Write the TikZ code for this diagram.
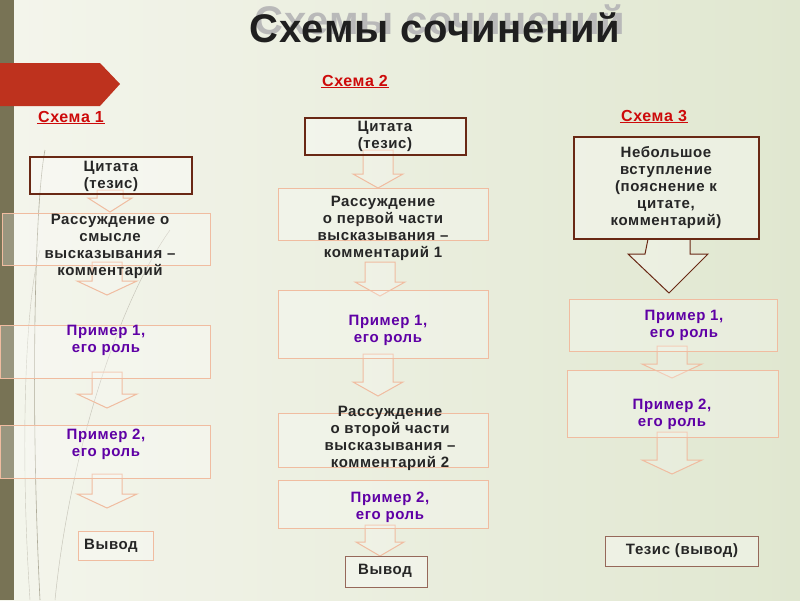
\documentclass[tikz,border=0pt]{standalone}
\usepackage{fontspec}
\setmainfont{Liberation Sans}[LetterSpace=4]
\newfontfamily\titlefont{Liberation Sans}[LetterSpace=2]
\definecolor{bgl}{RGB}{244,245,236}
\definecolor{bgr}{RGB}{224,231,208}
\definecolor{peach}{RGB}{240,188,160}
\definecolor{darkb}{RGB}{105,40,20}
\definecolor{purp}{RGB}{95,0,165}
\definecolor{hred}{RGB}{205,10,10}
\definecolor{brick}{RGB}{190,50,30}
\definecolor{olive}{RGB}{120,115,85}
\begin{document}
\begin{tikzpicture}[x=1pt,y=-1pt,
  lbox/.style={draw=peach,line width=1pt,fill=white,fill opacity=0.25,text opacity=1},
  dbox/.style={draw=darkb,line width=1.2pt,fill=white,fill opacity=0.35,text opacity=1},
  txt/.style={font=\fontsize{15}{17}\selectfont\bfseries,align=center,text=black!85},
  ptxt/.style={font=\fontsize{15}{17}\selectfont\bfseries,align=center,text=purp},
  hdr/.style={font=\fontsize{16}{18}\selectfont\bfseries,text=hred,inner sep=1pt},
  arr/.style={draw=peach,line width=1pt,fill=white,fill opacity=0.2}]
\useasboundingbox (0,0) rectangle (800,600);
\shade[left color=bgl,right color=bgr] (0,0) rectangle (800,600);
\fill[olive] (0,0) rectangle (14,600);
\draw[olive!60,line width=0.6pt] (40,600) .. controls (30,400) and (35,200) .. (45,150);
\draw[olive!40,line width=0.5pt] (55,600) .. controls (70,450) and (120,300) .. (170,230);
\draw[olive!40,line width=0.4pt] (30,600) .. controls (20,450) and (25,300) .. (40,250);
\fill[brick] (0,63) -- (100,63) -- (120,84) -- (100,106) -- (0,106) -- cycle;
\node[font=\titlefont\fontsize{40}{44}\selectfont\bfseries,text=gray!55] at (440,20) {Схемы сочинений};
\node[font=\titlefont\fontsize{40}{44}\selectfont\bfseries,text=black!88] (title) at (435,28) {Схемы сочинений};
% headers
\node[hdr] (h1) at (71,117) {Схема 1};
\draw[hred,line width=1pt] (h1.south west) -- (h1.south east);
\node[hdr] (h2) at (355,81) {Схема 2};
\draw[hred,line width=1pt] (h2.south west) -- (h2.south east);
\node[hdr] (h3) at (654,116) {Схема 3};
\draw[hred,line width=1pt] (h3.south west) -- (h3.south east);
% block arrows
\newcommand\darr[5]{\filldraw[arr] (#1-#4/2,#2) -- (#1+#4/2,#2) -- (#1+#4/2,#3-14) -- (#1+#5/2,#3-14) -- (#1,#3) -- (#1-#5/2,#3-14) -- (#1-#4/2,#3-14) -- cycle;}
\darr{110}{190}{212}{26}{44}
\darr{107}{262}{295}{30}{60}
\darr{107}{372}{408}{30}{60}
\darr{107}{474}{508}{30}{60}
\darr{378}{150}{188}{30}{50}
\darr{380}{262}{296}{30}{50}
\darr{378}{354}{396}{30}{50}
\darr{380}{525}{556}{30}{48}
\darr{672}{346}{378}{30}{60}
\darr{672}{432}{474}{30}{60}
\filldraw[draw=darkb,line width=1pt,fill=white,fill opacity=0.3] (648,239) -- (690,239) -- (690,254) -- (708,254) -- (669,293) -- (628,254) -- (645,254) -- cycle;
% schema 1
\draw[dbox] (30,157) rectangle (192,194);
\node[txt] (c1) at (111,176) {Цитата\\(тезис)};
\draw[lbox] (2,213) rectangle (210,265);
\node[txt] (r1) at (110,246) {Рассуждение о\\смысле\\высказывания –\\комментарий};
\draw[lbox] (0,325) rectangle (210,378);
\node[ptxt] (p11) at (106,340) {Пример 1,\\его роль};
\draw[lbox] (0,425) rectangle (210,478);
\node[ptxt] (p12) at (106,444) {Пример 2,\\его роль};
\draw[lbox] (78,531) rectangle (153,560);
\node[txt] (v1) at (111,546) {Вывод};
% schema 2
\draw[dbox] (305,118) rectangle (466,155);
\node[txt] (c2) at (385,136) {Цитата\\(тезис)};
\draw[lbox] (278,188) rectangle (488,240);
\node[txt] (r2) at (383,228) {Рассуждение\\о первой части\\высказывания –\\комментарий 1};
\draw[lbox] (278,290) rectangle (488,358);
\node[ptxt] (p21) at (388,330) {Пример 1,\\его роль};
\draw[lbox] (278,413) rectangle (488,467);
\node[txt] (r22) at (390,438) {Рассуждение\\о второй части\\высказывания –\\комментарий 2};
\draw[lbox] (278,480) rectangle (488,528);
\node[ptxt] (p22) at (390,507) {Пример 2,\\его роль};
\draw[dbox,line width=0.8pt,draw=darkb!70] (345,556) rectangle (427,587);
\node[txt] (v2) at (385,571) {Вывод};
% schema 3
\draw[dbox] (574,137) rectangle (759,239);
\node[txt] (n3) at (666,188) {Небольшое\\вступление\\(пояснение к\\цитате,\\комментарий)};
\draw[lbox] (569,299) rectangle (777,351);
\node[ptxt] (p31) at (684,325) {Пример 1,\\его роль};
\draw[lbox] (567,370) rectangle (778,437);
\node[ptxt] (p32) at (672,414) {Пример 2,\\его роль};
\draw[dbox,line width=0.8pt,draw=darkb!70] (605,536) rectangle (758,566);
\node[txt] (t3) at (682,551) {Тезис (вывод)};
\end{tikzpicture}
\end{document}
